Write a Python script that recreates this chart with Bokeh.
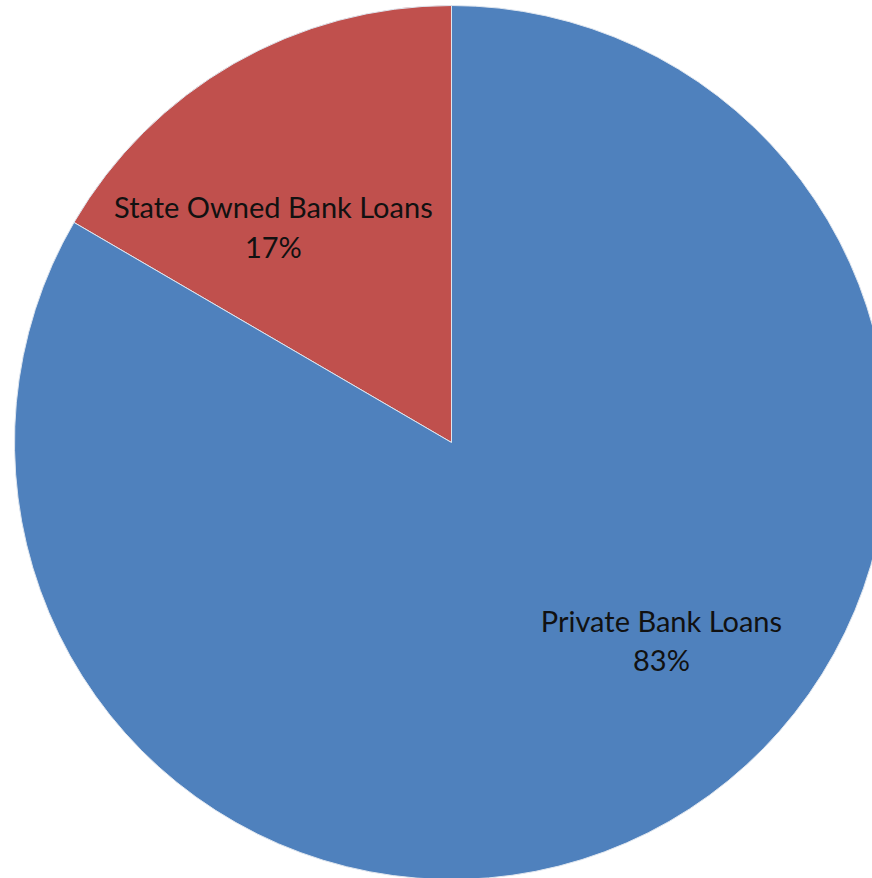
import math
from bokeh.plotting import figure
from bokeh.models import ColumnDataSource
from bokeh.core.properties import value
from bokeh.embed import file_html
from bokeh.resources import INLINE

categories = ["State Owned Bank Loans", "Private Bank Loans"]
shares = [16.6, 83.4]
colors = ["#C0504D", "#4F81BD"]

W, H = 872, 878
cx, cy, R = 451, H - 442, 437

total = sum(shares)
starts, ends = [], []
acc = 0.0
for s in shares:
    a0 = math.pi / 2 + 2 * math.pi * acc / total
    acc += s
    a1 = math.pi / 2 + 2 * math.pi * acc / total
    starts.append(a0)
    ends.append(a1)

src = ColumnDataSource(dict(start=starts, end=ends, color=colors,
                            x=[cx] * len(shares), y=[cy] * len(shares)))

p = figure(width=W, height=H, x_range=(0, W), y_range=(0, H),
           output_backend="svg", toolbar_location=None, min_border=0)
p.axis.visible = False
p.grid.visible = False
p.outline_line_color = None
p.background_fill_color = "white"

p.wedge(x="x", y="y", radius=R, start_angle="start", end_angle="end",
        fill_color="color", line_color="#dfe6ef", line_width=1, source=src)

# label placement (angle in degrees, distance from center in px)
label_pos = [(129.5, 280), (-43.2, 288)]
lx = [cx + d * math.cos(math.radians(a)) for a, d in label_pos]
ly = [cy + d * math.sin(math.radians(a)) for a, d in label_pos]
labels = [f"{c}\n{round(s)}%" for c, s in zip(categories, shares)]
p.text(x=lx, y=ly, text=labels, text_align="center", text_baseline="middle",
       text_font=value("Lato"), text_font_size="29px", text_color="#111111",
       text_line_height=1.12)

open("out.html", "w").write(file_html(p, INLINE))
